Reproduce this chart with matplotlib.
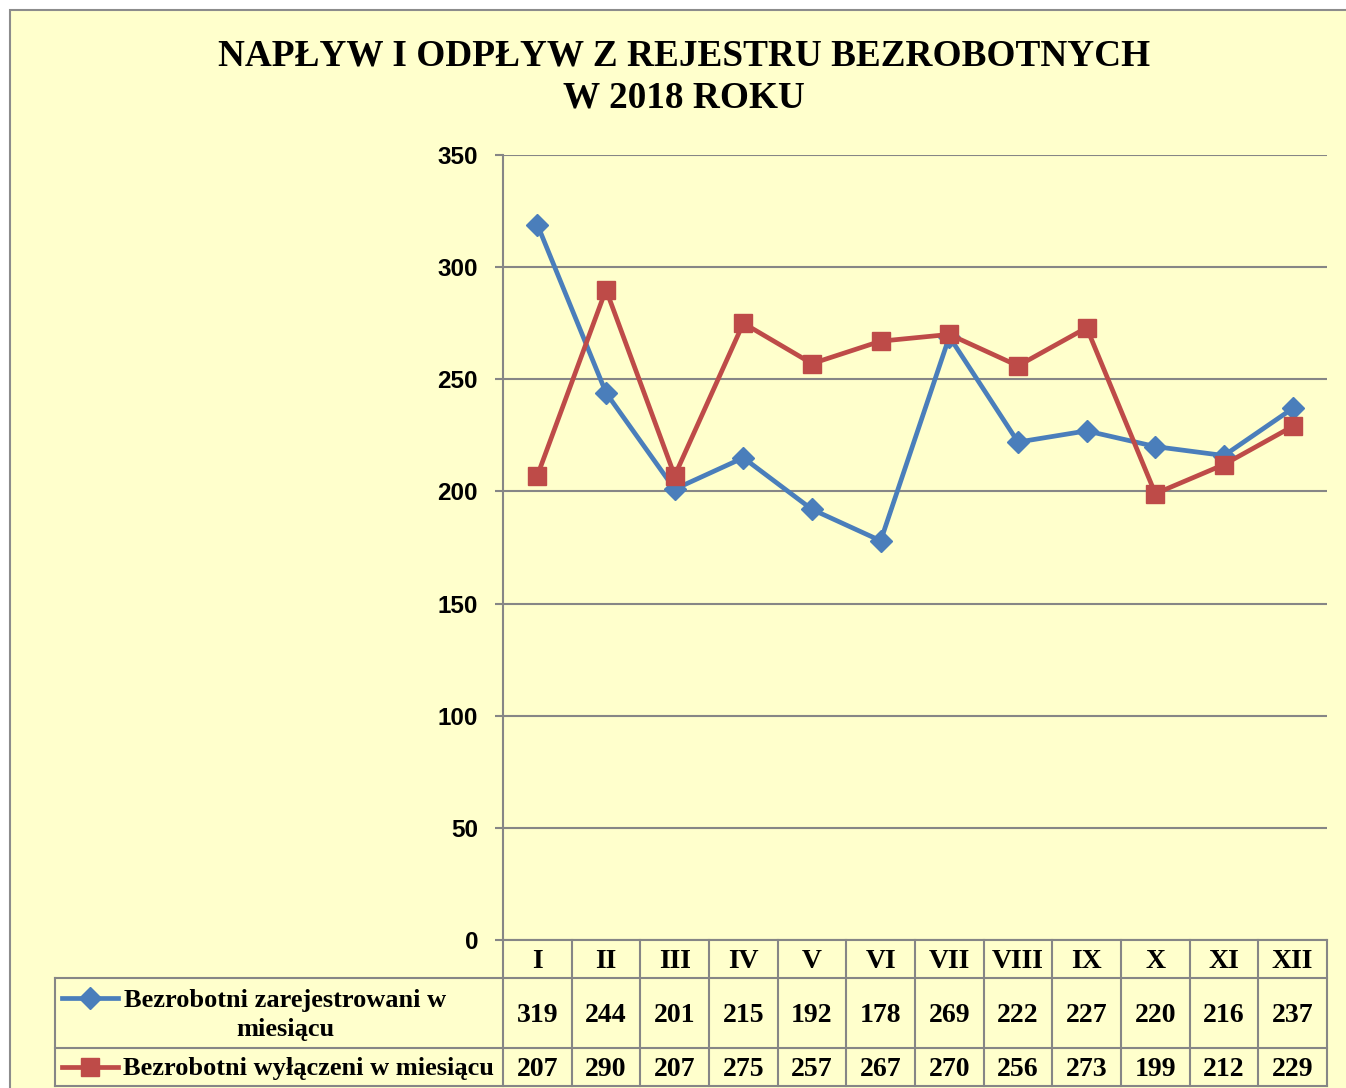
import matplotlib
matplotlib.use("Agg")
import matplotlib.pyplot as plt
import matplotlib.patches as mpatches
from matplotlib.lines import Line2D

# The data
months = ["I", "II", "III", "IV", "V", "VI", "VII", "VIII", "IX", "X", "XI", "XII"]
registered = [319, 244, 201, 215, 192, 178, 269, 222, 227, 220, 216, 237]
removed = [207, 290, 207, 275, 257, 267, 270, 256, 273, 199, 212, 229]
label_registered = "Bezrobotni zarejestrowani w\nmiesiącu"
label_removed = "Bezrobotni wyłączeni w miesiącu"
title = "NAPŁYW I ODPŁYW Z REJESTRU BEZROBOTNYCH\nW 2018 ROKU"

BLUE = "#4A7EBB"
RED = "#BE4B48"
BG = "#FFFFCC"
GRID = "#868686"
SERIF = "Liberation Serif"
SANS = "Liberation Sans"

W, H = 1346, 1088
fig = plt.figure(figsize=(W / 100, H / 100), dpi=100, facecolor="white")

# pixel overlay for the frame and the data table
ov = fig.add_axes([0, 0, 1, 1])
ov.set_xlim(0, W)
ov.set_ylim(H, 0)
ov.axis("off")
ov.add_patch(mpatches.Rectangle((10, 10), W + 20, H + 20, facecolor=BG,
                                edgecolor="#8C8C8C", lw=1.5, zorder=0))

ov.text(684, 77, title, ha="center", va="center", fontsize=26.8,
        fontweight="bold", family=SERIF, linespacing=1.25)

# plot area
px0, px1, py0, py1 = 503, 1327, 155, 940
ax = fig.add_axes([px0 / W, 1 - py1 / H, (px1 - px0) / W, (py1 - py0) / H])
ax.patch.set_alpha(0)
x = [i + 0.5 for i in range(len(months))]
ax.plot(x, registered, color=BLUE, lw=3.4, marker="D", ms=11, zorder=3)
ax.plot(x, removed, color=RED, lw=3.4, marker="s", ms=13, zorder=3)
ax.set_xlim(0, len(months))
ax.set_ylim(0, 350)
ax.set_yticks(range(0, 351, 50))
ax.yaxis.grid(True, color=GRID, lw=1.5)
ax.set_axisbelow(True)
ax.set_xticks([])
for s in ["top", "right", "bottom"]:
    ax.spines[s].set_visible(False)
ax.spines["left"].set_color(GRID)
ax.spines["left"].set_linewidth(1.5)
ax.tick_params(axis="y", length=6, width=1.5, color=GRID, pad=12,
               labelsize=17.5)
for t in ax.get_yticklabels():
    t.set_fontweight("bold")
    t.set_family(SANS)

# The table
lx = 55
cw = (px1 - px0) / len(months)
r0, r1, r2, r3 = 940, 978, 1048, 1086
lk = dict(color=GRID, lw=1.5)
ov.plot([px0, px1], [r0, r0], **lk)
for y in [r1, r2, r3]:
    ov.plot([lx, px1], [y, y], **lk)
ov.plot([lx, lx], [r1, r3], **lk)
for i in range(len(months) + 1):
    ov.plot([px0 + i * cw] * 2, [r0, r3], **lk)

tk = dict(ha="center", va="center", fontsize=20, fontweight="bold",
          family=SERIF)
for i, m in enumerate(months):
    cx = px0 + (i + 0.5) * cw
    ov.text(cx, (r0 + r1) / 2 + 2, m, **tk)
    ov.text(cx, (r1 + r2) / 2 + 2, str(registered[i]), **tk)
    ov.text(cx, (r2 + r3) / 2 + 2, str(removed[i]), **tk)

# legend keys in the table
ov.add_line(Line2D([62, 118], [998, 998], color=BLUE, lw=3.4))
ov.plot([90], [998], marker="D", color=BLUE, ms=11)
ov.add_line(Line2D([62, 118], [1067, 1067], color=RED, lw=3.4))
ov.plot([90], [1067], marker="s", color=RED, ms=13)
ov.text(285, (r1 + r2) / 2 + 2, label_registered, ha="center", va="center",
        fontsize=19, fontweight="bold", family=SERIF, linespacing=1.3)
ov.text(308, (r2 + r3) / 2 + 2, label_removed, ha="center", va="center",
        fontsize=19, fontweight="bold", family=SERIF)

plt.savefig("out.png", dpi=100, facecolor="white")
